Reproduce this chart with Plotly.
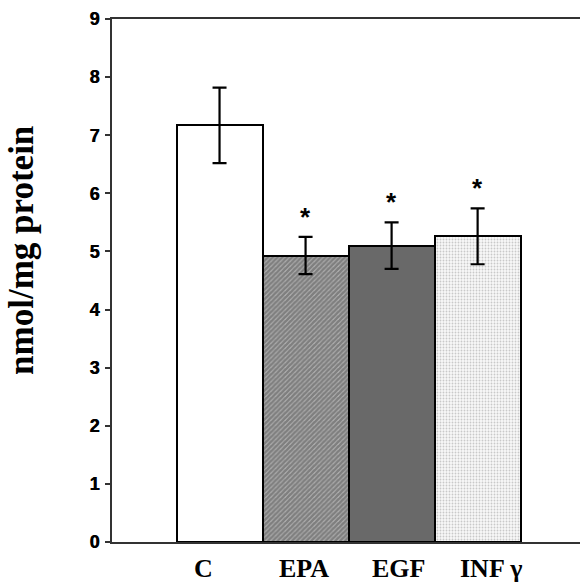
import plotly.graph_objects as go

categories = ["C", "EPA", "EGF", "INF γ"]
means = [7.17, 4.93, 5.10, 5.26]
errors = [0.65, 0.32, 0.40, 0.48]
significant = [False, True, True, True]
y_ticks = [0, 1, 2, 3, 4, 5, 6, 7, 8, 9]

fills = ["white", "#3a3a3a", "#696969", "#f4f4f4"]
patterns = [
    dict(shape=""),
    dict(shape="/", fgcolor="#262626", bgcolor="#d8d8d8", size=3.4, solidity=0.85, fillmode="overlay"),
    dict(shape=""),
    dict(shape=".", fgcolor="#9a9a9a", bgcolor="#f8f8f8", size=3, solidity=0.3, fillmode="overlay"),
]

fig = go.Figure()
for i, cat in enumerate(categories):
    fig.add_trace(go.Bar(
        x=[cat], y=[means[i]],
        marker=dict(color=fills[i], line=dict(color="black", width=2), pattern=patterns[i]),
        error_y=dict(type="data", array=[errors[i]], color="black", thickness=2.2, width=7),
        width=1.0, showlegend=False,
    ))

label_shift = [-16, -2, 7, 13]
for i, cat in enumerate(categories):
    fig.add_annotation(x=cat, y=0, xref="x", yref="paper", text=cat, showarrow=False,
                       yanchor="middle", yshift=-26, xshift=label_shift[i], borderpad=0,
                       font=dict(family="Liberation Serif", size=26, color="black", weight="bold"))
    if significant[i]:
        fig.add_annotation(x=cat, y=means[i] + errors[i], xref="x", yref="y", text="*",
                           showarrow=False, yanchor="middle", yshift=20,
                           font=dict(family="Liberation Sans", size=26, color="black", weight="bold"))

fig.add_annotation(x=-0.195, y=0.558, xref="paper", yref="paper", text="nmol/mg protein",
                   textangle=-90, showarrow=False, xanchor="center", yanchor="middle",
                   font=dict(family="Liberation Serif", size=35, color="black", weight="bold"))

fig.update_layout(
    width=580, height=586,
    margin=dict(l=112, r=0, t=19, b=44),
    paper_bgcolor="white", plot_bgcolor="white",
    bargap=0,
    xaxis=dict(type="category", categoryorder="array", categoryarray=categories,
               range=[-1.25, 4.19], showticklabels=False, ticks="",
               showline=True, linecolor="#333333", linewidth=2, mirror=True, showgrid=False, zeroline=False),
    yaxis=dict(range=[0, 9], tickvals=y_ticks, ticks="outside", ticklen=5, tickwidth=2, tickcolor="#333333",
               showline=True, linecolor="#333333", linewidth=2, showgrid=False, zeroline=False,
               tickfont=dict(family="Liberation Sans", size=18, color="black", weight="bold",
                             shadow="0.6px 0 0 black"),
               ticklabelstandoff=2),
)

fig.write_html("out.html")
